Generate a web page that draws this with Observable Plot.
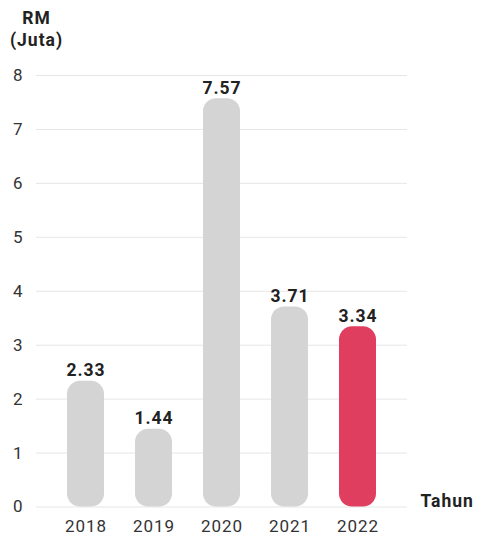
<!DOCTYPE html>
<html>
<head>
<meta charset="utf-8">
<script src="https://cdn.jsdelivr.net/npm/d3@7"></script>
<script src="https://cdn.jsdelivr.net/npm/@observablehq/plot@0.6"></script>
<style>
  html, body { margin: 0; padding: 0; background: #fff; }
  #chart svg { display: block; }
  #chart svg text { letter-spacing: 1px; }
</style>
</head>
<body>
<div id="chart"></div>
<script>
const years = ["2018", "2019", "2020", "2021", "2022"];
const values = [2.33, 1.44, 7.57, 3.71, 3.34];
const highlight = [false, false, false, false, true];
const yTicks = [0, 1, 2, 3, 4, 5, 6, 7, 8];
const yTitle = "RM\n(Juta)";
const xTitle = "Tahun";

const data = years.map((y, i) => ({year: y, value: values[i], hi: highlight[i]}));
const font = "Roboto, 'Open Sans', sans-serif";

const chart = Plot.plot({
  width: 487,
  height: 540,
  marginLeft: 36,
  marginRight: 80,
  marginTop: 75,
  marginBottom: 33.5,
  style: {fontFamily: font, background: "#fff"},
  x: {domain: years, padding: 0.45, label: null},
  y: {domain: [0, 8], label: null},
  marks: [
    Plot.ruleY(yTicks, {stroke: "#e6e6e6", strokeWidth: 1}),
    Plot.axisY(yTicks, {tickSize: 0, tickPadding: 13, tickFormat: d3.format("d"), fontSize: 17, fill: "#333", label: null}),
    Plot.axisX({tickSize: 0, tickPadding: 13, fontSize: 17, fill: "#333", label: null}),
    Plot.barY(data, {x: "year", y: "value", fill: d => d.hi ? "#e03e5e" : "#d4d4d4", rx: 13}),
    Plot.text(data, {x: "year", y: "value", text: d => d.value.toFixed(2), lineAnchor: "bottom", dy: -5,
      fontSize: 17.5, fontWeight: "bold", fill: "#222"}),
    Plot.text([xTitle], {frameAnchor: "bottom-right", text: d => d, textAnchor: "start", lineAnchor: "middle",
      dx: 13, dy: -6, fontSize: 17.5, fontWeight: "bold", fill: "#222"}),
    Plot.text([yTitle], {frameAnchor: "top-left", text: d => d, textAnchor: "middle", lineAnchor: "top",
      dx: 0, dy: -68, fontSize: 17.5, fontWeight: "bold", fill: "#222", lineHeight: 1.3})
  ]
});
document.getElementById("chart").appendChild(chart);
</script>
</body>
</html>
